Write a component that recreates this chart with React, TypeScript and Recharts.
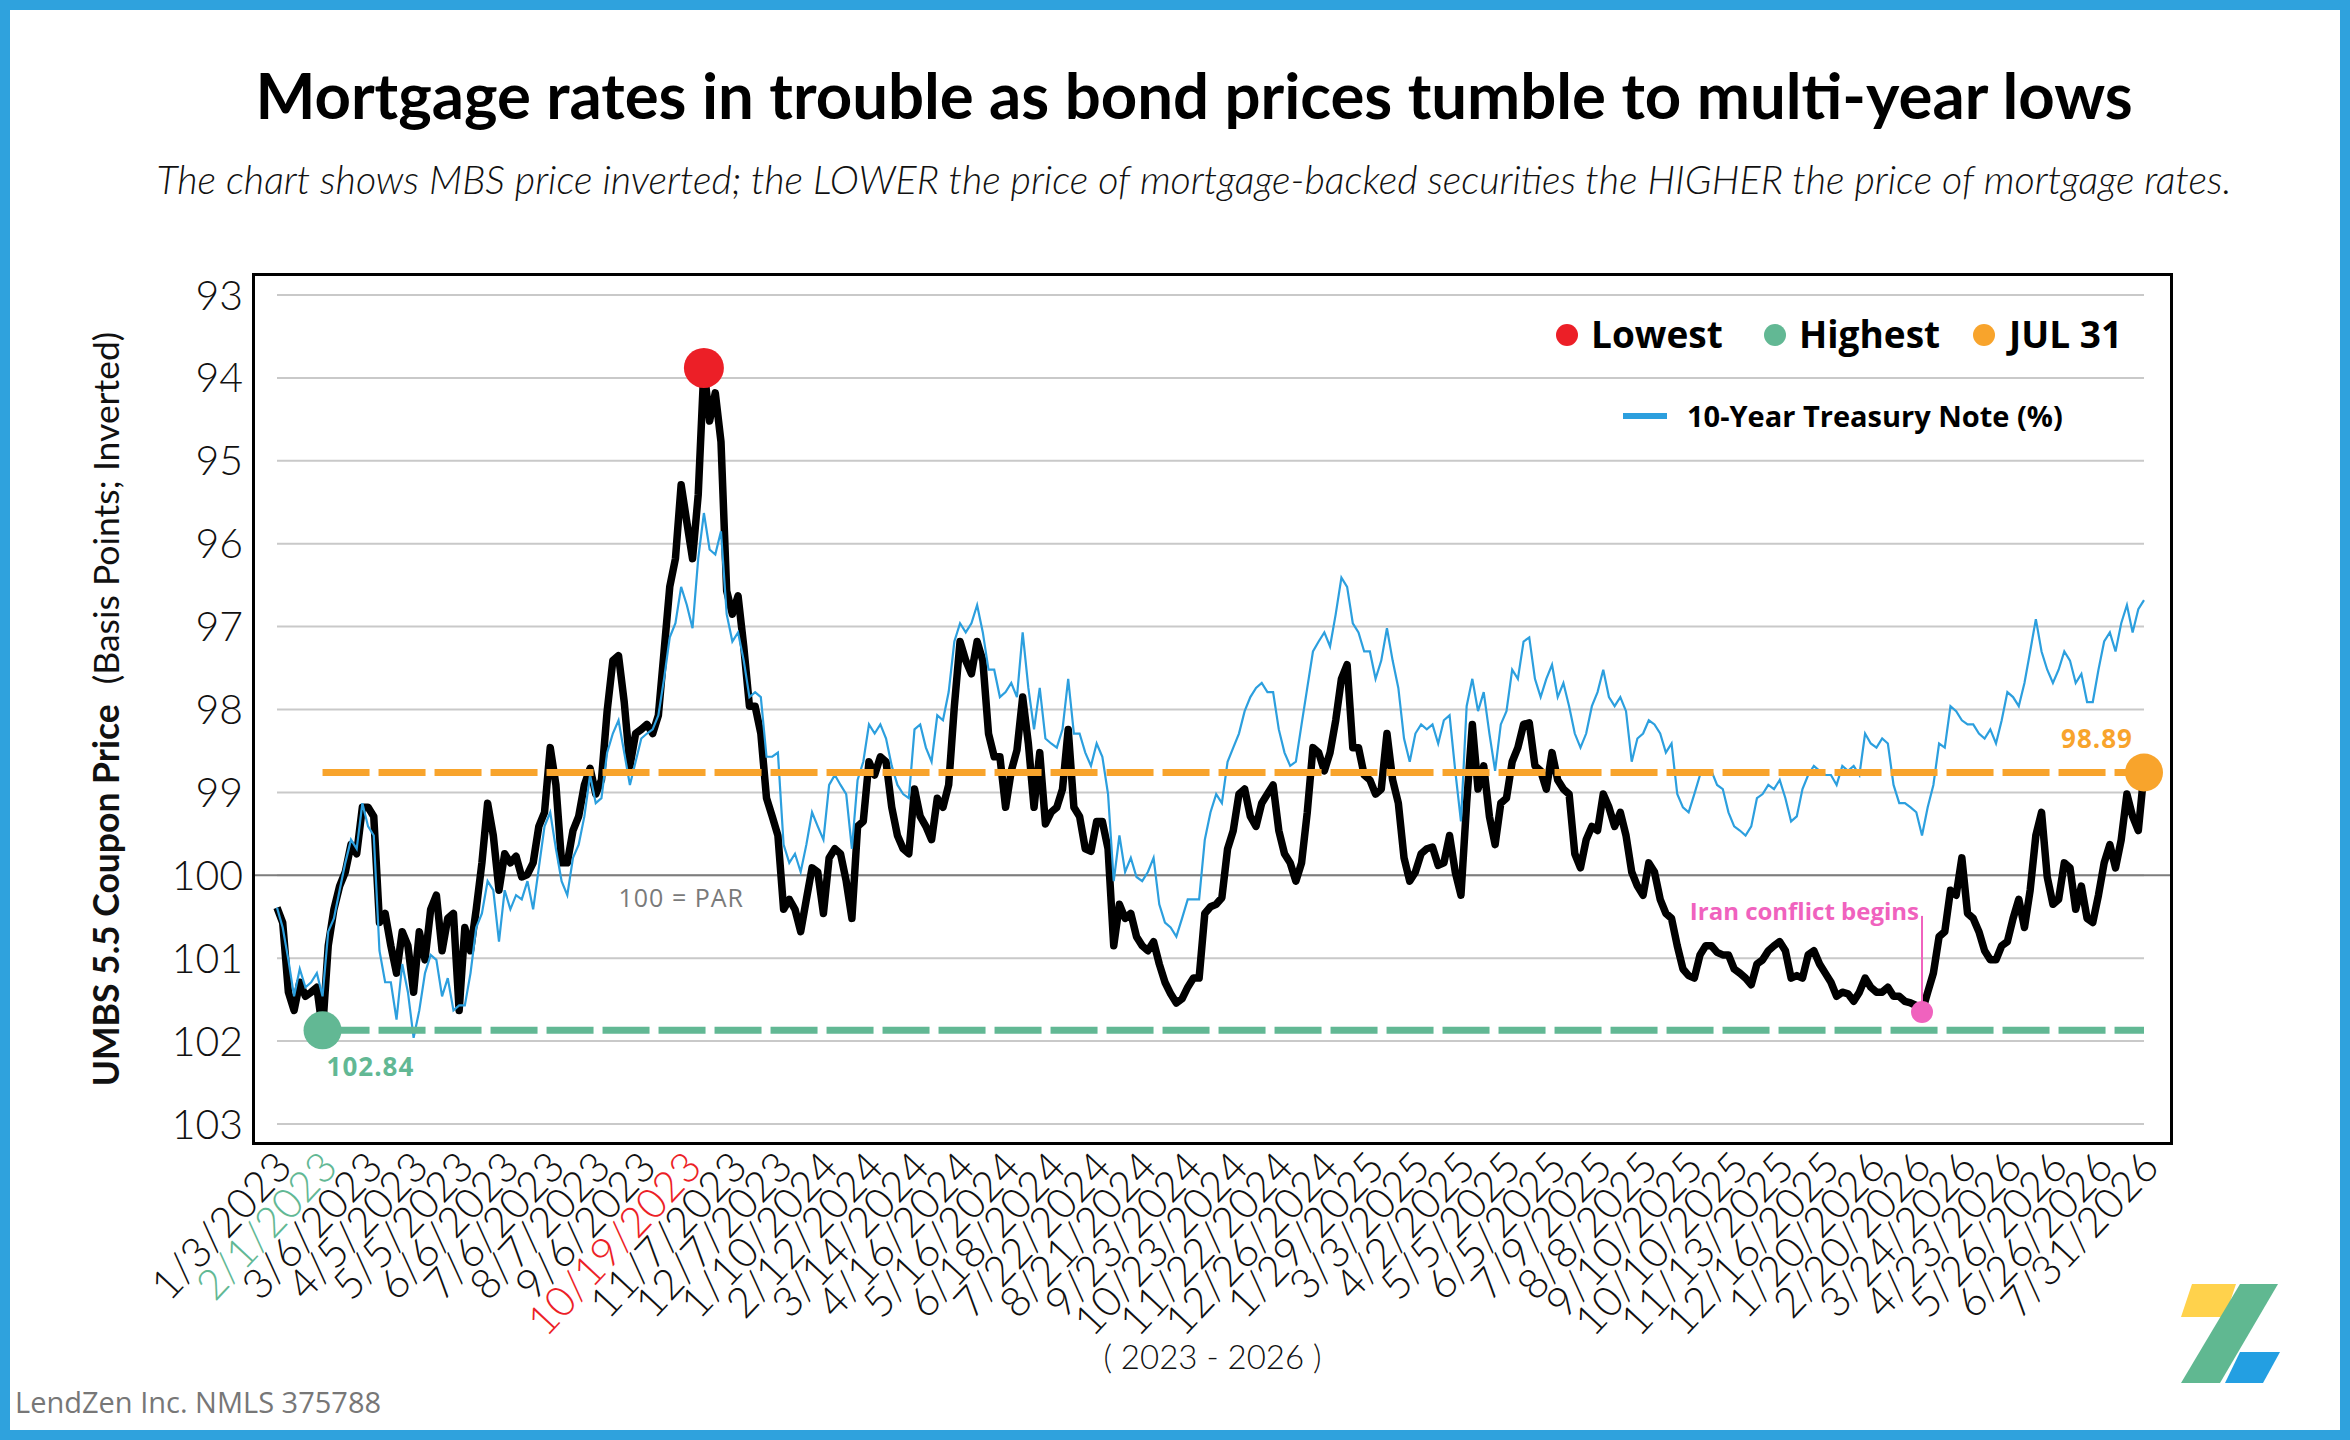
import React from "react";
import {
  LineChart,
  Line,
  XAxis,
  YAxis,
  ReferenceLine,
  ReferenceDot,
} from "recharts";

// tick labels along the bottom, one every 8 points
const dateLabels = [
  "1/3/2023", "2/1/2023", "3/6/2023", "4/5/2023", "5/5/2023", "6/6/2023",
  "7/6/2023", "8/7/2023", "9/6/2023", "10/19/2023", "11/7/2023", "12/7/2023",
  "1/10/2024", "2/12/2024", "3/14/2024", "4/16/2024", "5/16/2024", "6/18/2024",
  "7/22/2024", "8/21/2024", "9/23/2024", "10/23/2024", "11/22/2024", "12/26/2024",
  "1/29/2025", "3/3/2025", "4/2/2025", "5/5/2025", "6/5/2025", "7/9/2025",
  "8/8/2025", "9/10/2025", "10/10/2025", "11/13/2025", "12/16/2025", "1/20/2026",
  "2/20/2026", "3/24/2026", "4/23/2026", "5/26/2026", "6/26/2026", "7/31/2026",
];

const yTicks = [93, 94, 95, 96, 97, 98, 99, 100, 101, 102, 103];

// UMBS 5.5 coupon price (drawn on an inverted axis)
const mbsPrice = [
  100.39, 100.57, 101.41, 101.63, 101.29, 101.46, 101.41, 101.35, 101.87, 100.85,
  100.41, 100.13, 99.96, 99.63, 99.74, 99.18, 99.18, 99.29, 100.57, 100.46,
  100.85, 101.18, 100.68, 100.85, 101.41, 100.68, 101.02, 100.41, 100.24, 100.91,
  100.52, 100.46, 101.63, 100.63, 100.91, 100.41, 99.85, 99.13, 99.52, 100.18,
  99.74, 99.85, 99.77, 100.02, 99.99, 99.85, 99.41, 99.24, 98.46, 98.91,
  99.85, 99.85, 99.46, 99.29, 98.91, 98.71, 99.02, 98.85, 98.02, 97.41,
  97.35, 97.91, 98.68, 98.29, 98.24, 98.18, 98.29, 98.07, 97.3, 96.52,
  96.18, 95.29, 95.74, 96.18, 95.41, 93.88, 94.52, 94.18, 94.77, 96.57,
  96.85, 96.63, 97.24, 97.96, 97.96, 98.29, 99.07, 99.29, 99.52, 100.41,
  100.29, 100.41, 100.68, 100.29, 99.91, 99.96, 100.46, 99.79, 99.68, 99.74,
  100.07, 100.52, 99.41, 99.35, 98.63, 98.79, 98.57, 98.63, 99.18, 99.52,
  99.68, 99.74, 98.96, 99.29, 99.41, 99.57, 99.07, 99.18, 98.91, 97.96,
  97.18, 97.41, 97.57, 97.18, 97.41, 98.29, 98.57, 98.57, 99.18, 98.74,
  98.49, 97.85, 98.41, 99.18, 98.52, 99.38, 99.24, 99.18, 98.96, 98.24,
  99.18, 99.29, 99.68, 99.71, 99.35, 99.35, 99.68, 100.85, 100.35, 100.52,
  100.46, 100.74, 100.85, 100.91, 100.8, 101.07, 101.29, 101.43, 101.54, 101.49,
  101.35, 101.24, 101.24, 100.46, 100.38, 100.35, 100.27, 99.68, 99.46, 99.02,
  98.96, 99.29, 99.41, 99.13, 99.02, 98.91, 99.46, 99.74, 99.85, 100.07,
  99.85, 99.24, 98.46, 98.52, 98.74, 98.52, 98.13, 97.63, 97.46, 98.46,
  98.46, 98.79, 98.85, 99.02, 98.96, 98.29, 98.85, 99.13, 99.79, 100.07,
  99.96, 99.74, 99.68, 99.66, 99.88, 99.85, 99.52, 99.96, 100.24, 99.13,
  98.18, 98.96, 98.68, 99.29, 99.63, 99.13, 99.07, 98.63, 98.46, 98.18,
  98.16, 98.68, 98.74, 98.96, 98.52, 98.85, 98.96, 99.02, 99.74, 99.91,
  99.57, 99.41, 99.46, 99.02, 99.18, 99.41, 99.24, 99.52, 99.96, 100.13,
  100.24, 99.85, 99.96, 100.29, 100.46, 100.52, 100.85, 101.13, 101.21, 101.24,
  100.96, 100.85, 100.85, 100.93, 100.96, 100.96, 101.13, 101.18, 101.24, 101.32,
  101.07, 101.02, 100.91, 100.85, 100.8, 100.91, 101.24, 101.21, 101.24, 100.96,
  100.91, 101.07, 101.18, 101.29, 101.46, 101.41, 101.43, 101.52, 101.41, 101.24,
  101.35, 101.41, 101.41, 101.35, 101.46, 101.46, 101.52, 101.54, 101.57, 101.65,
  101.41, 101.18, 100.74, 100.68, 100.18, 100.24, 99.79, 100.46, 100.52, 100.68,
  100.91, 101.02, 101.02, 100.85, 100.8, 100.52, 100.29, 100.63, 100.18, 99.52,
  99.24, 100.02, 100.35, 100.29, 99.85, 99.91, 100.41, 100.13, 100.52, 100.57,
  100.24, 99.85, 99.63, 99.91, 99.57, 99.02, 99.29, 99.46, 98.76,
];

// 10-year treasury note, scaled onto the same (inverted) price axis
const treasuryScaled = [
  100.39, 100.63, 101.02, 101.46, 101.13, 101.35, 101.29, 101.18, 101.46, 100.68,
  100.52, 100.18, 99.85, 99.57, 99.68, 99.13, 99.41, 99.52, 100.91, 101.29,
  101.29, 101.74, 101.07, 101.41, 101.96, 101.63, 101.18, 100.96, 101.02, 101.46,
  101.24, 101.63, 101.57, 101.57, 101.18, 100.63, 100.46, 100.07, 100.18, 100.8,
  100.18, 100.41, 100.24, 100.29, 100.07, 100.41, 99.91, 99.41, 99.24, 99.68,
  100.07, 100.24, 99.79, 99.63, 99.29, 98.79, 99.13, 99.07, 98.52, 98.29,
  98.13, 98.52, 98.91, 98.63, 98.35, 98.29, 98.24, 98.07, 97.63, 97.13,
  96.96, 96.52, 96.74, 97.02, 96.18, 95.63, 96.07, 96.13, 95.85, 96.85,
  97.18, 97.07, 97.41, 97.85, 97.79, 97.85, 98.57, 98.57, 98.52, 99.63,
  99.85, 99.74, 99.96, 99.63, 99.24, 99.41, 99.57, 98.91, 98.79, 98.91,
  99.02, 99.68, 98.85, 98.63, 98.18, 98.29, 98.18, 98.35, 98.68, 98.91,
  99.02, 99.07, 98.24, 98.18, 98.46, 98.63, 98.07, 98.13, 97.79, 97.18,
  96.96, 97.07, 96.96, 96.74, 97.07, 97.52, 97.52, 97.85, 97.79, 97.68,
  97.85, 97.07, 97.74, 98.24, 97.74, 98.35, 98.41, 98.46, 98.24, 97.63,
  98.29, 98.29, 98.52, 98.68, 98.41, 98.57, 99.02, 100.07, 99.52, 99.96,
  99.79, 100.02, 100.07, 99.96, 99.79, 100.35, 100.57, 100.63, 100.74, 100.52,
  100.29, 100.29, 100.29, 99.57, 99.24, 99.02, 99.13, 98.63, 98.46, 98.29,
  98.02, 97.85, 97.74, 97.68, 97.79, 97.79, 98.24, 98.52, 98.68, 98.63,
  98.18, 97.74, 97.3, 97.18, 97.07, 97.24, 96.85, 96.41, 96.52, 96.96,
  97.07, 97.3, 97.3, 97.63, 97.41, 97.02, 97.41, 97.74, 98.35, 98.63,
  98.29, 98.18, 98.24, 98.18, 98.41, 98.13, 98.07, 98.74, 99.35, 97.96,
  97.63, 98.02, 97.79, 98.29, 98.74, 98.18, 98.02, 97.52, 97.63, 97.18,
  97.13, 97.63, 97.85, 97.63, 97.46, 97.85, 97.68, 97.96, 98.29, 98.46,
  98.29, 97.96, 97.79, 97.52, 97.85, 97.96, 97.85, 98.02, 98.63, 98.35,
  98.29, 98.13, 98.18, 98.29, 98.52, 98.41, 99.02, 99.18, 99.24, 99.02,
  98.79, 98.79, 98.74, 98.91, 98.96, 99.24, 99.41, 99.46, 99.52, 99.41,
  99.07, 99.02, 98.91, 98.96, 98.85, 99.07, 99.35, 99.29, 98.96, 98.79,
  98.68, 98.74, 98.79, 98.79, 98.91, 98.68, 98.74, 98.68, 98.79, 98.29,
  98.41, 98.46, 98.35, 98.41, 98.91, 99.13, 99.13, 99.18, 99.24, 99.52,
  99.18, 98.91, 98.41, 98.46, 97.96, 98.02, 98.13, 98.18, 98.18, 98.29,
  98.35, 98.24, 98.41, 98.13, 97.79, 97.85, 97.96, 97.68, 97.3, 96.91,
  97.3, 97.52, 97.68, 97.52, 97.3, 97.41, 97.68, 97.57, 97.91, 97.91,
  97.52, 97.18, 97.07, 97.3, 96.96, 96.74, 97.07, 96.79, 96.68,
];

const PER_TICK = 8;
const IRAN_IDX = 289;
const IRAN_TOP = 100.49;

const GREEN = "#62b894";
const RED = "#ec1f27";
const ORANGE = "#f8a42c";
const PINK = "#f062be";
const BLUE = "#2c9fde";

const data = mbsPrice.map((mbs, i) => ({ i, mbs, tsy: treasuryScaled[i] }));
const LAST = data.length - 1;
const tickIdx = dateLabels.map((_, k) => k * PER_TICK);
const HIGH_IDX = mbsPrice.indexOf(Math.max(...mbsPrice));
const LOW_IDX = mbsPrice.indexOf(Math.min(...mbsPrice));

const DateTick = ({ x, y, payload }: any) => {
  const k = Math.round(payload.value / PER_TICK);
  const color = k === 1 ? GREEN : k === 9 ? RED : "#111";
  const tx = x + 17;
  const ty = y + 17;
  return (
    <text
      x={tx}
      y={ty}
      transform={`rotate(-47, ${tx}, ${ty})`}
      textAnchor="end"
      fill={color}
      fontSize={42}
      fontFamily="Lato"
      fontWeight={300}
    >
      {dateLabels[k]}
    </text>
  );
};

const YAxisTitle = ({ viewBox }: any) => {
  const cx = viewBox.x + 105;
  const cy = viewBox.y + viewBox.height / 2;
  return (
    <text
      x={cx}
      y={cy}
      transform={`rotate(-90, ${cx}, ${cy})`}
      textAnchor="middle"
      dominantBaseline="central"
      fontSize={35.5}
      fontFamily="Lato"
      fill="#111"
    >
      <tspan fontWeight={700}>UMBS 5.5 Coupon Price</tspan>
      <tspan dx={20}>(Basis Points; Inverted)</tspan>
    </text>
  );
};

const note = (text: string, dx: number, dy: number, anchor: string, style: any) => (p: any) => (
  <text x={p.cx + dx} y={p.cy + dy} textAnchor={anchor} {...style}>
    {text}
  </text>
);

export default function App() {
  return (
    <div style={{ position: "absolute", left: 0, top: 0, width: 2350, height: 1440, background: "#fff" }}>
      <div style={{ position: "absolute", left: 0, top: 0 }}>
        <LineChart width={2350} height={1440} data={data} margin={{ top: 274, right: 178, bottom: 66, left: 0 }}>
          <XAxis
            dataKey="i"
            type="number"
            domain={[0, LAST]}
            ticks={tickIdx}
            interval={0}
            padding={{ left: 24, right: 28 }}
            height={230}
            tickLine={false}
            axisLine={false}
            tick={<DateTick />}
            label={{
              value: "( 2023 - 2026 )",
              position: "insideBottom",
              offset: 5,
              fontSize: 33,
              fill: "#111",
              fontFamily: "Lato",
              fontWeight: 300,
            }}
          />
          <YAxis
            type="number"
            reversed
            domain={[93, 103]}
            ticks={yTicks}
            interval={0}
            padding={{ top: 21, bottom: 20 }}
            width={253}
            tickLine={false}
            axisLine={false}
            tickMargin={4}
            tick={{ fontSize: 41, fill: "#111", fontFamily: "Lato", fontWeight: 300 }}
            label={<YAxisTitle />}
          />
          {yTicks.map((v) => (
            <ReferenceLine
              key={v}
              segment={[{ x: 0, y: v }, { x: LAST, y: v }]}
              stroke="#c9c9c9"
              strokeWidth={2}
            />
          ))}
          <ReferenceLine y={100} stroke="#7d7d7d" strokeWidth={2} />
          <ReferenceDot
            x={60}
            y={100}
            r={0}
            shape={note("100 = PAR", 0, 32, "start", { fontSize: 25, fill: "#7a7a7a", fontFamily: "Open Sans", letterSpacing: 1 })}
          />
          <Line
            dataKey="mbs"
            type="linear"
            stroke="#000"
            strokeWidth={7.5}
            strokeLinejoin="round"
            dot={false}
            activeDot={false}
            isAnimationActive={false}
          />
          <Line
            dataKey="tsy"
            type="linear"
            stroke={BLUE}
            strokeWidth={2.2}
            dot={false}
            activeDot={false}
            isAnimationActive={false}
          />
          <ReferenceLine
            segment={[{ x: HIGH_IDX, y: mbsPrice[HIGH_IDX] }, { x: LAST, y: mbsPrice[HIGH_IDX] }]}
            stroke={GREEN}
            strokeWidth={7}
            strokeDasharray="47 9"
          />
          <ReferenceLine
            segment={[{ x: HIGH_IDX, y: mbsPrice[LAST] }, { x: LAST, y: mbsPrice[LAST] }]}
            stroke={ORANGE}
            strokeWidth={7}
            strokeDasharray="47 9"
          />
          <ReferenceLine
            segment={[{ x: IRAN_IDX, y: IRAN_TOP }, { x: IRAN_IDX, y: mbsPrice[IRAN_IDX] }]}
            stroke={PINK}
            strokeWidth={2}
          />
          <ReferenceDot x={LOW_IDX} y={mbsPrice[LOW_IDX]} r={20} fill={RED} stroke="none" />
          <ReferenceDot x={HIGH_IDX} y={mbsPrice[HIGH_IDX]} r={19} fill={GREEN} stroke="none" />
          <ReferenceDot x={LAST} y={mbsPrice[LAST]} r={19} fill={ORANGE} stroke="none" />
          <ReferenceDot x={IRAN_IDX} y={mbsPrice[IRAN_IDX]} r={11} fill={PINK} stroke="none" />
          <ReferenceDot
            x={HIGH_IDX}
            y={mbsPrice[HIGH_IDX]}
            r={0}
            shape={note("102.84", 4, 46, "start", { fontSize: 26, fontWeight: 700, fill: GREEN, fontFamily: "Open Sans", letterSpacing: 1 })}
          />
          <ReferenceDot
            x={LAST}
            y={mbsPrice[LAST]}
            r={0}
            shape={note("98.89", -11, -25, "end", { fontSize: 26, fontWeight: 700, fill: ORANGE, fontFamily: "Open Sans", letterSpacing: 1 })}
          />
          <ReferenceDot
            x={IRAN_IDX}
            y={mbsPrice[IRAN_IDX]}
            r={0}
            shape={note("Iran conflict begins", -3, -92, "end", { fontSize: 24, fontWeight: 700, fill: PINK, fontFamily: "Open Sans" })}
          />
        </LineChart>
      </div>

      {/* plot frame */}
      <div
        style={{
          position: "absolute",
          left: 252,
          top: 273,
          width: 1921,
          height: 872,
          border: "3px solid #000",
          boxSizing: "border-box",
          pointerEvents: "none",
        }}
      />

      <svg width={2350} height={1440} style={{ position: "absolute", left: 0, top: 0, pointerEvents: "none" }}>
        <text x={1194} y={119} textAnchor="middle" fontSize={63.5} fontWeight={700} fontFamily="Lato" fill="#000">
          Mortgage rates in trouble as bond prices tumble to multi-year lows
        </text>
        <text x={1194} y={194} textAnchor="middle" fontSize={39.4} fontStyle="italic" fontWeight={300} fontFamily="Lato" fill="#111">
          The chart shows MBS price inverted; the LOWER the price of mortgage-backed securities the HIGHER the price of mortgage rates.
        </text>

        {/* legend */}
        <circle cx={1567} cy={335} r={11} fill={RED} />
        <text x={1591} y={348} fontSize={37} fontWeight={700} fontFamily="Open Sans" fill="#000">Lowest</text>
        <circle cx={1775} cy={335} r={11} fill={GREEN} />
        <text x={1799} y={348} fontSize={37} fontWeight={700} fontFamily="Open Sans" fill="#000">Highest</text>
        <circle cx={1984} cy={335} r={11} fill={ORANGE} />
        <text x={2009} y={348} fontSize={37} fontWeight={700} fontFamily="Open Sans" fill="#000">JUL 31</text>
        <line x1={1623} x2={1667} y1={416} y2={416} stroke={BLUE} strokeWidth={6} />
        <text x={1687} y={427} fontSize={29} fontWeight={700} fontFamily="Open Sans" fill="#000">10-Year Treasury Note (%)</text>

        <text x={15} y={1413} fontSize={29} fontFamily="Open Sans" fill="#777">LendZen Inc. NMLS 375788</text>

        {/* logo */}
        <polygon points="2192,1284 2236,1284 2225,1317 2181,1317" fill="#ffd24c" />
        <polygon points="2240,1284 2278,1284 2220,1383 2181,1383" fill="#60b891" />
        <polygon points="2240,1352 2280,1352 2263,1383 2225,1383" fill="#239fe2" />
      </svg>

      <div
        style={{
          position: "absolute",
          left: 0,
          top: 0,
          width: 2350,
          height: 1440,
          border: "10px solid #2fa2dd",
          boxSizing: "border-box",
          pointerEvents: "none",
        }}
      />
    </div>
  );
}
